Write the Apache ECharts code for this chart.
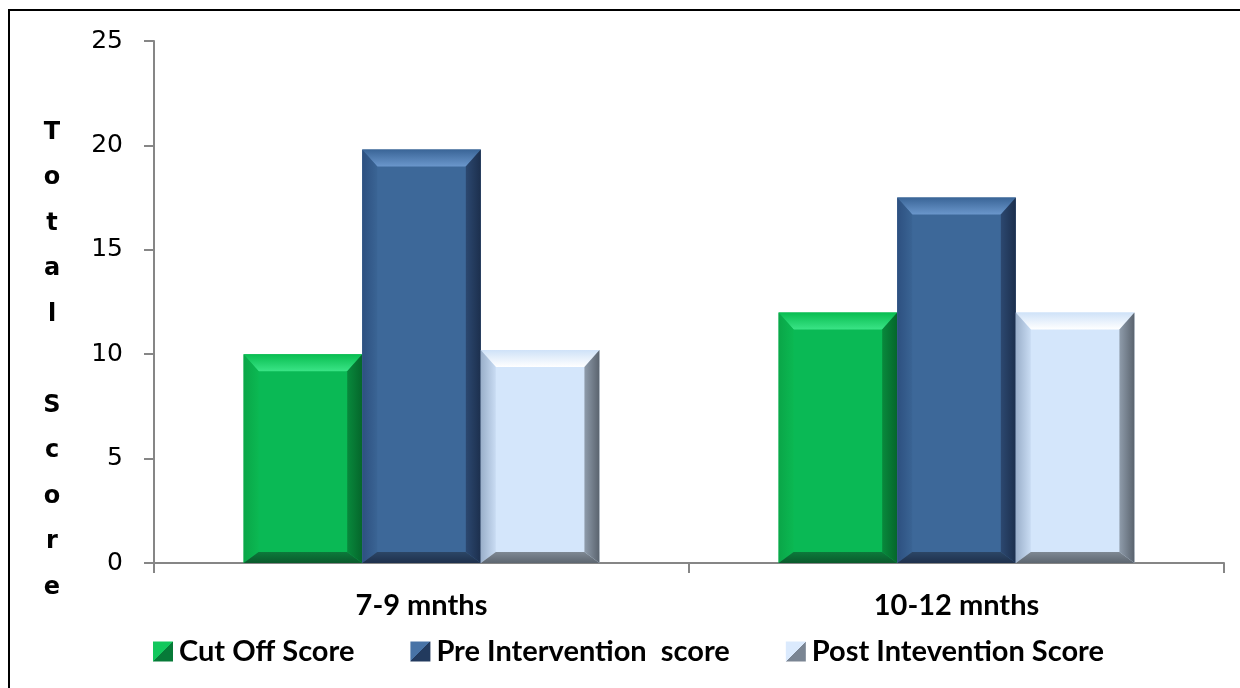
<!DOCTYPE html>
<html>
<head>
<meta charset="utf-8">
<script src="https://cdn.jsdelivr.net/npm/echarts@6/dist/echarts.min.js"></script>
<style>
  html, body { margin: 0; padding: 0; background: #fff; }
  #chart { width: 1240px; height: 688px; }
</style>
</head>
<body>
<div id="chart"></div>
<script>
// Age groups and their total scores
const categories = ['7-9 mnths', '10-12 mnths'];
const cutOffScore = [10, 12];
const preInterventionScore = [19.8, 17.5];
const postInterventionScore = [10.2, 12];
const seriesNames = ['Cut Off Score', 'Pre Intervention  score', 'Post Intevention Score'];
const yTicks = { min: 0, max: 25, step: 5 };

const G = echarts.graphic;
const lin = (x0, y0, x1, y1, a, b) =>
  new G.LinearGradient(x0, y0, x1, y1, [{ offset: 0, color: a }, { offset: 1, color: b }]);
// Hard diagonal split: light upper-left half, dark lower-right half
const split = (a, b) =>
  new G.LinearGradient(0, 0, 1, 1, [
    { offset: 0, color: a }, { offset: 0.5, color: a },
    { offset: 0.5, color: b }, { offset: 1, color: b }
  ]);

// Bevel palettes: face, top, left, right, bottom (outer -> inner)
const palettes = [
  { face: '#0ab955', top: ['#08bd50', '#3ae486'], left: ['#0aa648', '#0bb852'],
    right: ['#05662b', '#08893c'], bottom: ['#0a5a2c', '#0c7a3b'],
    legend: split('#12c75c', '#077a38') },
  { face: '#3d6899', top: ['#3a6597', '#6b97cc'], left: ['#2d5080', '#3a6494'],
    right: ['#1c2f4d', '#2c4870'], bottom: ['#1e304c', '#2c4666'],
    legend: split('#4873a6', '#223a5e') },
  { face: '#d4e6fb', top: ['#cfe2f8', '#ffffff'], left: ['#9aafca', '#c9dcf3'],
    right: ['#5a636e', '#8f9cab'], bottom: ['#5d6670', '#7f8994'],
    legend: split('#dbeafd', '#7a8593') }
];

const BAR_FRACTION = 0.2217; // share of each category band used by one bar

function bevelRenderer(seriesIdx) {
  const p = palettes[seriesIdx];
  return function (params, api) {
    const cat = api.value(0);
    const val = api.value(1);
    const base = api.coord([cat, 0]);
    const topPt = api.coord([cat, val]);
    const band = api.size([1, 0])[0];
    const w = band * BAR_FRACTION;
    const x0 = base[0] + (seriesIdx - 1.5) * w;
    const x1 = x0 + w;
    const y0 = topPt[1];
    const y1 = base[1];
    const h = y1 - y0;
    const bt = Math.min(17, h * 0.3), bb = Math.min(11, h * 0.2), bs = 15;
    const ix0 = x0 + bs, ix1 = x1 - bs, iy0 = y0 + bt, iy1 = y1 - bb;
    const poly = (pts, fill) => ({ type: 'polygon', shape: { points: pts }, style: { fill: fill, stroke: null } });
    return {
      type: 'group',
      children: [
        poly([[x0, y0], [x1, y0], [x1, y1], [x0, y1]], p.face),
        poly([[x0, y0], [x1, y0], [ix1, iy0], [ix0, iy0]], lin(0, 0, 0, 1, p.top[0], p.top[1])),
        poly([[x0, y0], [ix0, iy0], [ix0, iy1], [x0, y1]], lin(0, 0, 1, 0, p.left[0], p.left[1])),
        poly([[x1, y0], [x1, y1], [ix1, iy1], [ix1, iy0]], lin(1, 0, 0, 0, p.right[0], p.right[1])),
        poly([[x0, y1], [ix0, iy1], [ix1, iy1], [x1, y1]], lin(0, 1, 0, 0, p.bottom[0], p.bottom[1]))
      ]
    };
  };
}

const seriesData = [cutOffScore, preInterventionScore, postInterventionScore];
const labelFont = 'Lato, "Liberation Sans", Arial, sans-serif';

const chart = echarts.init(document.getElementById('chart'), null, { renderer: 'canvas' });
chart.setOption({
  animation: false,
  backgroundColor: '#ffffff',
  grid: { left: 154, right: 16, top: 41, bottom: 125 },
  xAxis: {
    type: 'category',
    data: categories,
    boundaryGap: true,
    axisLine: { lineStyle: { color: '#868686', width: 2 } },
    axisTick: { show: true, length: 10, alignWithLabel: false, lineStyle: { color: '#868686', width: 2 } },
    axisLabel: { margin: 28, color: '#000', fontFamily: labelFont, fontWeight: 'bold', fontSize: 29 }
  },
  yAxis: {
    type: 'value',
    min: yTicks.min, max: yTicks.max, interval: yTicks.step,
    axisLine: { show: true, lineStyle: { color: '#868686', width: 2 } },
    axisTick: { show: true, length: 10, lineStyle: { color: '#868686', width: 2 } },
    splitLine: { show: false },
    axisLabel: { margin: 31, color: '#000', fontFamily: '"DejaVu Sans", Verdana, sans-serif', fontSize: 25 }
  },
  legend: {
    left: 153, top: 637, padding: 0,
    itemWidth: 20, itemHeight: 20, itemGap: 56,
    icon: 'rect',
    textStyle: { color: '#000', fontFamily: labelFont, fontWeight: 'bold', fontSize: 29, padding: [0, 0, 0, 1] },
    data: seriesNames
  },
  graphic: [
    {
      type: 'rect', silent: true,
      shape: { x: 9, y: 10, width: 1260, height: 720 },
      style: { fill: 'none', stroke: '#000', lineWidth: 2 }
    },
    {
      type: 'text', silent: true,
      x: 52, y: 110,
      style: {
        text: 'T\no\nt\na\nl\n \nS\nc\no\nr\ne',
        align: 'center', verticalAlign: 'top',
        lineHeight: 45.5,
        fontFamily: '"DejaVu Sans", Verdana, sans-serif', fontWeight: 'bold', fontSize: 24,
        fill: '#000'
      }
    }
  ],
  series: seriesData.map((vals, i) => ({
    type: 'custom',
    name: seriesNames[i],
    renderItem: bevelRenderer(i),
    encode: { x: 0, y: 1 },
    itemStyle: { color: palettes[i].legend },
    data: vals.map((v, c) => [c, v])
  }))
});
</script>
</body>
</html>
